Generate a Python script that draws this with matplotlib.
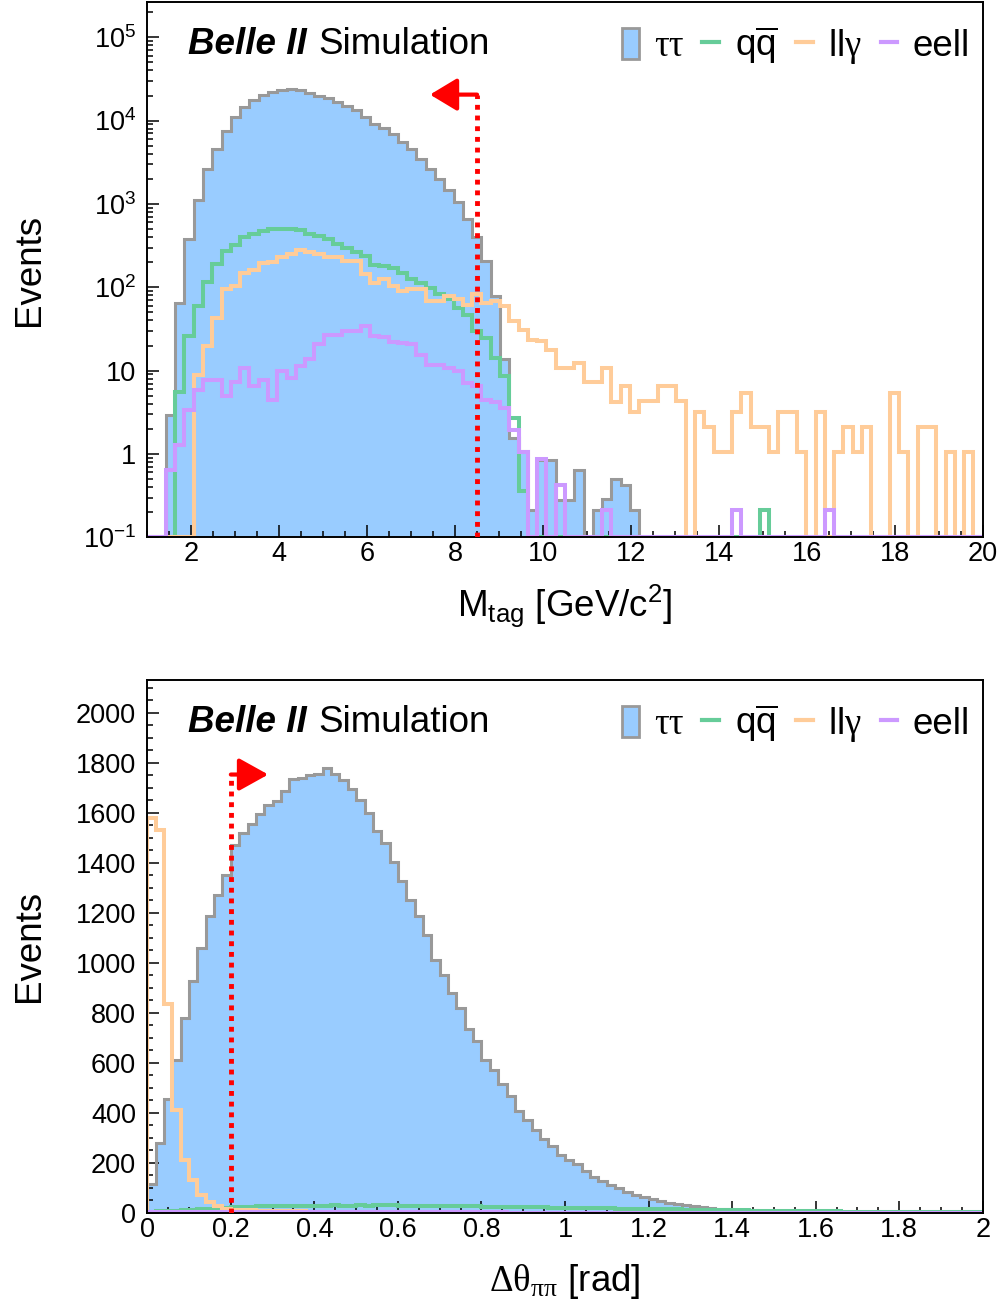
import matplotlib
matplotlib.use('Agg')
import matplotlib.pyplot as plt
import numpy as np
from matplotlib.patches import Patch
from matplotlib.lines import Line2D
from matplotlib.ticker import MultipleLocator, LogLocator, FixedLocator, NullFormatter, FuncFormatter

plt.rcParams['font.family'] = ['Liberation Sans', 'DejaVu Sans']
plt.rcParams['mathtext.fontset'] = 'custom'
plt.rcParams['mathtext.rm'] = 'Liberation Sans'
plt.rcParams['mathtext.it'] = 'Liberation Sans:italic'
plt.rcParams['mathtext.bf'] = 'Liberation Sans:bold'
plt.rcParams['mathtext.sf'] = 'Liberation Serif'

# Binning of the two histograms
mtag_range = (1, 20)
mtag_nbins = 90
dtheta_range = (0, 2)
dtheta_nbins = 100

# M_tag [GeV/c^2] histograms (90 bins, 1-20)
mtag_tautau = [0, 0, 2.95, 65, 378, 1100, 2590, 4600, 7520, 11070,
               14600, 17570, 20200, 22200, 23600, 23800, 23200, 21600, 19800, 18800,
               16800, 15000, 13300, 11070, 9200, 8240, 6970, 5530, 4510, 3480,
               2640, 2000, 1450, 1050, 660, 397, 207, 78.5, 13.6, 1.55,
               1.1, 0.21, 0.85, 0.85, 0.28, 0.28, 0.64, 0, 0.215, 0.29,
               0.5, 0.42, 0.215, 0, 0, 0, 0, 0, 0, 0,
               0, 0, 0, 0, 0, 0, 0, 0, 0, 0,
               0, 0, 0, 0, 0, 0, 0, 0, 0, 0,
               0, 0, 0, 0, 0, 0, 0, 0, 0, 0]
mtag_qq = [0, 0, 0, 5.6, 26, 60, 115, 189, 270, 320,
           397, 435, 477, 500, 505, 500, 490, 440, 408, 378,
           330, 300, 262, 238, 185, 178, 168, 150, 125, 112,
           98, 84, 73, 56, 47, 30, 24.8, 14.2, 8.5, 2.7,
           0.36, 0, 0, 0, 0, 0, 0, 0, 0, 0,
           0, 0, 0, 0, 0, 0, 0, 0, 0, 0,
           0, 0, 0, 0, 0, 0, 0.215, 0, 0, 0,
           0, 0, 0, 0, 0, 0, 0, 0, 0, 0,
           0, 0, 0, 0, 0, 0, 0, 0, 0, 0]
mtag_llg = [0, 0, 0, 0, 0, 8.95, 19.6, 43, 95, 104,
            147, 162, 198, 200, 228, 250, 279, 262, 250, 228,
            228, 207, 207, 143, 114, 125, 104, 90, 95, 95,
            68, 68, 78, 72, 62, 82, 65, 68, 59.5, 39,
            31, 23.6, 22.5, 17.9, 10.8, 10.8, 12.4, 7.4, 7.4, 10.8,
            4.15, 6.5, 3.15, 4.27, 4.27, 6.5, 6.5, 4.27, 0, 3.15,
            2.13, 1.07, 1.07, 3.15, 5.4, 2.13, 2.13, 1.07, 3.15, 3.15,
            1.07, 0, 3.15, 0, 1.07, 2.13, 1.07, 2.13, 0, 0,
            5.4, 1.07, 0, 2.13, 2.13, 0, 1.07, 0, 1.07, 0]
mtag_eell = [0, 0, 0.64, 1.28, 3.4, 5.9, 7.8, 7.8, 4.9, 7.4,
             10.8, 6.5, 7.8, 4.5, 9.8, 8.2, 11.3, 13.6, 20.6, 27,
             27, 30, 30, 34, 26, 25.6, 22, 21.4, 20.6, 15.6,
             11.8, 11.8, 10.8, 9.8, 7.1, 6.5, 4.5, 4.15, 3.55, 1.95,
             1.07, 0, 0.86, 0, 0.42, 0, 0, 0, 0, 0.215,
             0, 0, 0, 0, 0, 0, 0, 0, 0, 0,
             0, 0, 0, 0.215, 0, 0, 0, 0, 0, 0,
             0, 0, 0, 0.215, 0, 0, 0, 0, 0, 0,
             0, 0, 0, 0, 0, 0, 0, 0, 0, 0]

# Delta theta_pipi [rad] histograms (100 bins, 0-2)
dtheta_tautau = [116, 279, 455, 612, 779, 925, 1059, 1185, 1272, 1352,
                 1472, 1519, 1556, 1596, 1632, 1645, 1685, 1735, 1739, 1752,
                 1755, 1779, 1755, 1729, 1696, 1652, 1599, 1525, 1479, 1403,
                 1325, 1249, 1185, 1112, 1012, 952, 879, 819, 735, 688,
                 612, 572, 515, 465, 405, 372, 332, 295, 265, 232,
                 212, 194, 168, 143, 126, 111, 97, 84, 72, 63,
                 53, 46, 40, 33, 29, 25, 22, 19, 16, 14,
                 12, 10, 9, 8, 7, 6, 5, 4.5, 4, 3.5,
                 3, 2.6, 2.3, 2, 1.8, 1.6, 1.4, 1.2, 1.1, 1,
                 0.9, 0.8, 0.7, 0.6, 0.5, 0.5, 0.4, 0.4, 0.3, 0.3]
dtheta_qq = [3, 5, 6, 8, 10, 12, 14, 16, 18, 20,
             22, 23, 24, 25, 25, 26, 27, 26, 27, 28,
             27, 28, 29, 28, 28, 29, 28, 29, 30, 29,
             28, 28, 27, 28, 27, 26, 27, 26, 25, 25,
             24, 24, 23, 23, 22, 22, 21, 21, 20, 20,
             19, 19, 18, 18, 17, 17, 16, 16, 15, 15,
             14, 14, 13, 13, 12, 12, 11, 11, 10, 10,
             9, 9, 8, 8, 7, 7, 7, 6, 6, 6,
             5, 5, 5, 4, 4, 4, 4, 3, 3, 3,
             3, 3, 2, 2, 2, 2, 2, 2, 1, 1]
dtheta_llg = [1579, 1532, 836, 412, 212, 132, 72, 41, 25, 15,
              12, 10, 9, 8, 7, 6, 6, 5, 5, 4,
              4, 3, 3, 3, 2, 2, 2, 2, 2, 1.5,
              1.5, 1, 1, 1, 1, 1, 1, 1, 1, 1,
              0.5, 0.5, 0.5, 0.5, 0.5, 0.5, 0.5, 0.5, 0.5, 0.5,
              0.5, 0.5, 0.5, 0.5, 0.5, 0, 0, 0, 0, 0,
              0, 0, 0, 0, 0, 0, 0, 0, 0, 0,
              0, 0, 0, 0, 0, 0, 0, 0, 0, 0,
              0, 0, 0, 0, 0, 0, 0, 0, 0, 0,
              0, 0, 0, 0, 0, 0, 0, 0, 0, 0]
dtheta_eell = [4, 3, 3, 2.5, 2.5, 2, 2, 2, 2, 2,
               1.5, 1.5, 1.5, 1.5, 1.5, 1.5, 1.5, 1.5, 1.5, 1.5,
               1.5, 1.5, 1, 1, 1, 1, 1, 1, 1, 1,
               1, 1, 1, 1, 1, 1, 1, 1, 1, 1,
               1, 1, 1, 0.5, 0.5, 0.5, 0.5, 0.5, 0.5, 0.5,
               0.5, 0.5, 0.5, 0.5, 0.5, 0.5, 0.5, 0.5, 0.5, 0.5,
               0.5, 0.5, 0.5, 0.5, 0.5, 0, 0, 0, 0, 0,
               0, 0, 0, 0, 0, 0, 0, 0, 0, 0,
               0, 0, 0, 0, 0, 0, 0, 0, 0, 0,
               0, 0, 0, 0, 0, 0, 0, 0, 0, 0]

# Selection cuts
mtag_cut = 8.5
dtheta_cut = 0.2

legend_labels = ['ττ', r'q$\overline{\mathregular{q}}$', r'll$\mathsf{\gamma}$', 'eell']

c_fill = '#99ccff'
c_grey = '#999999'
c_green = '#66cc99'
c_orange = '#ffcc99'
c_purple = '#cc99ff'


def draw_hists(ax, edges, tautau, qq, llg, eell, floor):
    tt = np.maximum(np.array(tautau, dtype=float), floor)
    ax.stairs(tt, edges, baseline=floor, fill=True, color=c_fill, lw=0, zorder=1)
    ax.stairs(tt, edges, baseline=floor, color=c_grey, lw=2.2, zorder=2)
    for vals, c in [(qq, c_green), (llg, c_orange), (eell, c_purple)]:
        v = np.maximum(np.array(vals, dtype=float), floor)
        ax.stairs(v, edges, baseline=floor, color=c, lw=2.9, zorder=3)


def style_axes(ax):
    for s in ax.spines.values():
        s.set_linewidth(1.4)
        s.set_zorder(4)
    ax.tick_params(which='both', direction='in', top=False, right=False, width=1.1, labelsize=19.5)
    ax.tick_params(which='major', length=8.6)
    ax.tick_params(which='minor', length=4.3)
    ax.tick_params(axis='x', pad=3)
    ax.tick_params(axis='y', pad=8)


def add_labels(ax):
    ax.text(0.049, 0.903, 'Belle II', transform=ax.transAxes, fontsize=26.5,
            fontweight='bold', fontstyle='italic', va='baseline', ha='left')
    ax.text(0.2047, 0.903, 'Simulation', transform=ax.transAxes, fontsize=26.5,
            va='baseline', ha='left')
    handles = [Patch(facecolor=c_fill, edgecolor=c_grey, lw=2),
               Line2D([], [], color=c_green, lw=3),
               Line2D([], [], color=c_orange, lw=3),
               Line2D([], [], color=c_purple, lw=3)]
    leg = ax.legend(handles, legend_labels, loc='center right', bbox_to_anchor=(0.985, 0.918),
                    ncol=4, frameon=False, fontsize=26.5, handlelength=0.46, handleheight=0.95,
                    handletextpad=0.42, columnspacing=0.5, borderpad=0, borderaxespad=0)
    leg.get_texts()[0].set_fontfamily('Liberation Serif')
    ax.set_ylabel('Events', fontsize=26.5)
    ax.yaxis.set_label_coords(-0.12, 0.5)


fig = plt.figure(figsize=(10.05, 13.08), dpi=100)
ax1 = fig.add_axes([147.3 / 1005, 1 - 537.3 / 1308, 835.4 / 1005, 535.6 / 1308])
ax2 = fig.add_axes([147.3 / 1005, 1 - 1212.7 / 1308, 835.4 / 1005, 532.7 / 1308])

# Top: M_tag, log scale
mtag_edges = np.linspace(mtag_range[0], mtag_range[1], mtag_nbins + 1)
ax1.set_yscale('log')
draw_hists(ax1, mtag_edges, mtag_tautau, mtag_qq, mtag_llg, mtag_eell, 0.1)
ax1.set_xlim(*mtag_range)
ax1.set_ylim(0.1, 2.67e5)
ax1.xaxis.set_major_locator(MultipleLocator(2))
ax1.xaxis.set_minor_locator(MultipleLocator(0.5))
ax1.yaxis.set_major_locator(FixedLocator([0.1, 1, 10, 100, 1e3, 1e4, 1e5]))
ax1.set_yticklabels([r'$\mathregular{10^{-1}}$', '1', '10', r'$\mathregular{10^{2}}$',
                     r'$\mathregular{10^{3}}$', r'$\mathregular{10^{4}}$', r'$\mathregular{10^{5}}$'])
ax1.yaxis.set_minor_locator(LogLocator(base=10, subs=np.arange(2, 10), numticks=20))
ax1.yaxis.set_minor_formatter(NullFormatter())
style_axes(ax1)
add_labels(ax1)
ax1.set_xlabel(r'M$_{\mathregular{tag}}$ [GeV/c$^{\mathregular{2}}$]', fontsize=26.5)
ax1.xaxis.set_label_coords(0.5, -0.085)

top_arrow_y = 2.05e4
ax1.plot([mtag_cut, mtag_cut], [0.1, top_arrow_y], color='red', lw=3.5, dashes=(1.0, 1.2), zorder=6)
ax1.annotate('', xy=(7.43, top_arrow_y), xytext=(mtag_cut, top_arrow_y),
             arrowprops=dict(arrowstyle='-|>,head_length=0.83,head_width=0.5', color='red',
                             lw=3, mutation_scale=20, shrinkA=0, shrinkB=0), zorder=6)

# Bottom: delta theta, linear scale
dtheta_edges = np.linspace(dtheta_range[0], dtheta_range[1], dtheta_nbins + 1)
draw_hists(ax2, dtheta_edges, dtheta_tautau, dtheta_qq, dtheta_llg, dtheta_eell, 0)
ax2.set_xlim(*dtheta_range)
ax2.set_ylim(0, 2130)
ax2.xaxis.set_major_locator(MultipleLocator(0.2))
ax2.xaxis.set_minor_locator(MultipleLocator(0.05))
ax2.xaxis.set_major_formatter(FuncFormatter(lambda v, p: '%g' % round(v, 3)))
ax2.yaxis.set_major_locator(MultipleLocator(200))
ax2.yaxis.set_minor_locator(MultipleLocator(50))
style_axes(ax2)
add_labels(ax2)
ax2.set_xlabel(r'$\mathsf{\Delta\theta_{\pi\pi}}$ [rad]', fontsize=26.5)
ax2.xaxis.set_label_coords(0.5, -0.0925)

bot_arrow_y = 1752
ax2.plot([dtheta_cut, dtheta_cut], [0, bot_arrow_y], color='red', lw=3.5, dashes=(1.0, 1.2), zorder=6)
ax2.annotate('', xy=(0.2895, bot_arrow_y), xytext=(dtheta_cut, bot_arrow_y),
             arrowprops=dict(arrowstyle='-|>,head_length=0.9,head_width=0.5', color='red',
                             lw=3, mutation_scale=20, shrinkA=0, shrinkB=0), zorder=6)

fig.savefig('out.png', dpi=100)
plt.close(fig)
